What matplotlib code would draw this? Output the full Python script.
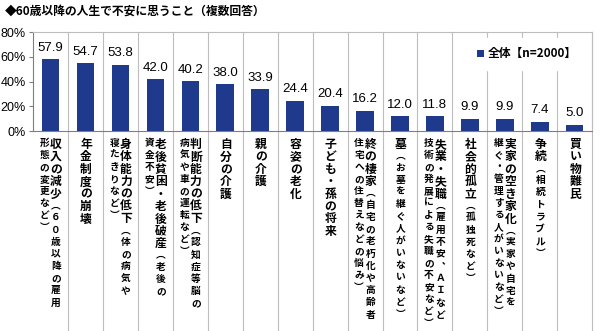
import matplotlib.pyplot as plt
from matplotlib.ticker import FuncFormatter


OUTPUT_FILE = "out.png"

TITLE = "◆60歳以降の人生で不安に思うこと（複数回答）"
SERIES_NAME = "全体【n=2000】"

CATEGORIES = [
    "収入の減少（60歳以降の雇用形態の変更など）",
    "年金制度の崩壊",
    "身体能力の低下（体の病気や寝たきりなど）",
    "老後貧困・老後破産（老後の資金不安）",
    "判断能力の低下（認知症等脳の病気や車の運転など）",
    "自分の介護",
    "親の介護",
    "容姿の老化",
    "子ども・孫の将来",
    "終の棲家（自宅の老朽化や高齢者住宅への住替えなどの悩み）",
    "墓（お墓を継ぐ人がいないなど）",
    "失業・失職（雇用不安、AIなど技術の発展による失職の不安など）",
    "社会的孤立（孤独死など）",
    "実家の空き家化（実家や自宅を継ぐ・管理する人がいないなど）",
    "争続（相続トラブル）",
    "買い物難民",
]

VALUES = [57.9, 54.7, 53.8, 42.0, 40.2, 38.0, 33.9, 24.4,
          20.4, 16.2, 12.0, 11.8, 9.9, 9.9, 7.4, 5.0]

# vertical label pieces: big main text, small text in the right column,
# small text in the left column
LABEL_MAIN = [
    "収入の減少", "年金制度の崩壊", "身体能力の低下", "老後貧困・老後破産",
    "判断能力の低下", "自分の介護", "親の介護", "容姿の老化",
    "子ども・孫の将来", "終の棲家", "墓", "失業・失職",
    "社会的孤立", "実家の空き家化", "争続", "買い物難民",
]
LABEL_SUB_RIGHT = [
    "︵６０歳以降の雇用", "", "︵体の病気や", "︵老後の",
    "︵認知症等脳の", "", "", "",
    "", "︵自宅の老朽化や高齢者", "︵お墓を継ぐ人がいないなど︶", "︵雇用不安︑ＡＩなど",
    "︵孤独死など︶", "︵実家や自宅を", "︵相続トラブル︶", "",
]
LABEL_SUB_LEFT = [
    "形態の変更など︶", "", "寝たきりなど︶", "資金不安︶",
    "病気や車の運転など︶", "", "", "",
    "", "住宅への住替えなどの悩み︶", "", "技術の発展による失職の不安など︶",
    "", "継ぐ・管理する人がいないなど︶", "", "",
]

Y_TICKS = [0, 20, 40, 60, 80]

BAR_COLOR = "#1F3A8C"
GRID_COLOR = "#BDBDBD"
AXIS_COLOR = "#7F7F7F"
JP_FONT = ["Noto Sans CJK JP", "DejaVu Sans"]
LATIN_FONT = ["Liberation Sans", "Noto Sans CJK JP"]

PX = 0.72  # points per pixel at dpi 100


def draw_column(axis, x, dx_px, pieces):
    """Stack characters top to bottom under the axis."""
    offset = 7.0
    for text, size, step in pieces:
        for char in text:
            axis.annotate(
                char,
                xy=(x, 0),
                xycoords=("data", "axes fraction"),
                xytext=(dx_px * PX, -offset * PX),
                textcoords="offset points",
                ha="center",
                va="top",
                fontsize=size,
                fontweight="bold",
                family=JP_FONT,
                annotation_clip=False,
            )
            offset += step


def main() -> None:
    figure = plt.figure(figsize=(6.0, 3.31), dpi=100)
    axis = figure.add_axes([0.055, 0.604, 0.932, 0.299])

    positions = list(range(len(CATEGORIES)))

    bars = axis.bar(
        positions,
        VALUES,
        width=0.5,
        color=BAR_COLOR,
        label=SERIES_NAME,
        zorder=3,
    )

    axis.set_xlim(-0.5, len(CATEGORIES) - 0.5)
    axis.set_ylim(0, 80)
    axis.set_yticks(Y_TICKS)
    axis.yaxis.set_major_formatter(FuncFormatter(lambda v, _: f"{v:.0f}%"))
    axis.set_xticks([])

    for label in axis.get_yticklabels():
        label.set_family(LATIN_FONT)
        label.set_fontsize(9)

    axis.tick_params(axis="y", length=3, color=AXIS_COLOR, pad=2)

    for side in ("top", "right"):
        axis.spines[side].set_color(GRID_COLOR)
    for side in ("left", "bottom"):
        axis.spines[side].set_color(AXIS_COLOR)

    # category separators running down through the label area
    for edge in [p + 0.5 for p in positions]:
        axis.plot(
            [edge, edge],
            [1.0, -2.05],
            transform=axis.get_xaxis_transform(),
            color=GRID_COLOR,
            linewidth=0.8,
            clip_on=False,
            zorder=1,
        )

    for bar, value in zip(bars, VALUES, strict=True):
        axis.annotate(
            f"{value:.1f}",
            xy=(bar.get_x() + bar.get_width() / 2, value),
            xytext=(0, 4),
            textcoords="offset points",
            ha="center",
            va="bottom",
            fontsize=9.5,
            family=LATIN_FONT,
        )

    for i in positions:
        main_piece = (LABEL_MAIN[i], 8.5, 12.4)
        right_piece = (LABEL_SUB_RIGHT[i], 7, 12.2)
        left_text = LABEL_SUB_LEFT[i]
        if left_text:
            draw_column(axis, i, 5.5, [main_piece, right_piece])
            draw_column(axis, i, -6.0, [(left_text, 7, 12.0)])
        else:
            draw_column(axis, i, 0.5, [main_piece, right_piece])

    legend = axis.legend(
        loc="upper right",
        bbox_to_anchor=(1.0, 1.0),
        frameon=True,
        fancybox=False,
        edgecolor="white",
        framealpha=1.0,
        handlelength=0.6,
        handleheight=0.6,
        handletextpad=0.3,
        borderpad=0.8,
        prop={"family": JP_FONT, "weight": "bold", "size": 8.5},
    )
    legend.set_zorder(5)

    figure.text(
        0.008,
        0.965,
        TITLE,
        ha="left",
        va="center",
        fontsize=8.5,
        fontweight="bold",
        family=JP_FONT,
    )

    figure.savefig(OUTPUT_FILE, dpi=100)


if __name__ == "__main__":
    main()
